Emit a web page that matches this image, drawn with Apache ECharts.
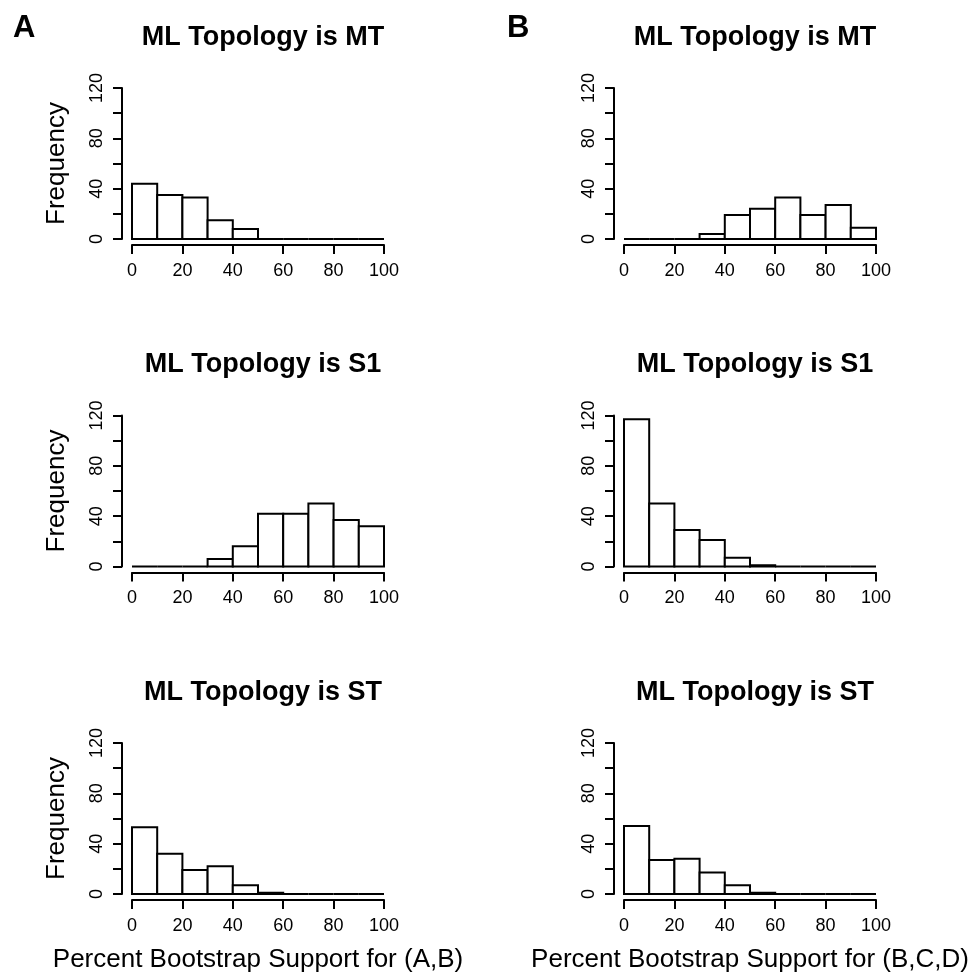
<!DOCTYPE html>
<html>
<head>
<meta charset="utf-8">
<script src="https://cdn.jsdelivr.net/npm/echarts@6/dist/echarts.min.js"></script>
<style>
  html, body { margin: 0; padding: 0; background: #fff; }
  #chart { width: 976px; height: 974px; }
</style>
</head>
<body>
<div id="chart"></div>
<script>
// histogram bin edges (percent bootstrap support)
const binEdges = [0, 10, 20, 30, 40, 50, 60, 70, 80, 90, 100];

// counts per bin, column A = support for (A,B), column B = support for (B,C,D)
const countsA_MT = [44, 35, 33, 15, 8, 0, 0, 0, 0, 0];
const countsA_S1 = [0, 0, 0, 6, 16, 42, 42, 50, 37, 32];
const countsA_ST = [53, 32, 19, 22, 7, 1, 0, 0, 0, 0];
const countsB_MT = [0, 0, 0, 4, 19, 24, 33, 19, 27, 9];
const countsB_S1 = [117, 50, 29, 21, 7, 1, 0, 0, 0, 0];
const countsB_ST = [54, 27, 28, 17, 7, 1, 0, 0, 0, 0];

const panelTitles = ['ML Topology is MT', 'ML Topology is S1', 'ML Topology is ST'];
const panelLetters = ['A', 'B'];
const xTitles = ['Percent Bootstrap Support for (A,B)', 'Percent Bootstrap Support for (B,C,D)'];
const yTitle = 'Frequency';

const font = 'Liberation Sans, Arial, Helvetica, sans-serif';

const columns = [
  { left: 132, letterLeft: 8, counts: [countsA_MT, countsA_S1, countsA_ST] },
  { left: 624, letterLeft: 502, counts: [countsB_MT, countsB_S1, countsB_ST] }
];
const plotW = 252, plotH = 151;
const rowTops = [88, 415.5, 743];

let grids = [], xAxes = [], yAxes = [], series = [], titles = [];

columns.forEach((col, c) => {
  titles.push({
    text: panelLetters[c],
    left: col.letterLeft,
    top: 8,
    textStyle: { fontFamily: font, fontWeight: 'bold', fontSize: 31, color: '#000' }
  });
  rowTops.forEach((top, r) => {
    const idx = grids.length;
    grids.push({ left: col.left, top: top, width: plotW, height: plotH });
    titles.push({
      text: panelTitles[r],
      left: col.left + plotW / 2,
      top: top - 69,
      textAlign: 'center',
      textStyle: { fontFamily: font, fontWeight: 'bold', fontSize: 27, color: '#000' }
    });
    // R style: axes detached from the plot area
    xAxes.push({
      type: 'value', gridIndex: idx, min: 0, max: 100, interval: 20,
      offset: 6,
      name: r === 2 ? xTitles[c] : '',
      nameLocation: 'middle', nameGap: 47,
      nameTextStyle: { fontFamily: font, fontSize: 26, color: '#000' },
      axisLine: { onZero: false, lineStyle: { color: '#000', width: 2 } },
      axisTick: { length: 9, lineStyle: { color: '#000', width: 2 } },
      axisLabel: { fontFamily: font, fontSize: 18, color: '#000', margin: 17 },
      splitLine: { show: false }
    });
    yAxes.push({
      type: 'value', gridIndex: idx, min: 0, max: 120, interval: 20,
      offset: 10,
      name: c === 0 ? yTitle : '',
      nameLocation: 'middle', nameGap: 52, nameRotate: 90,
      nameTextStyle: { fontFamily: font, fontSize: 26, color: '#000' },
      axisLine: { show: true, onZero: false, lineStyle: { color: '#000', width: 2 } },
      axisTick: { show: true, length: 9, lineStyle: { color: '#000', width: 2 } },
      axisLabel: {
        fontFamily: font, fontSize: 18, color: '#000', margin: 16, rotate: 90,
        formatter: v => (v % 40 === 0 ? String(v) : '')
      },
      splitLine: { show: false }
    });
    series.push({
      type: 'custom',
      xAxisIndex: idx, yAxisIndex: idx,
      encode: { x: [0, 1], y: 2 },
      data: col.counts[r].map((n, i) => [binEdges[i], binEdges[i + 1], n]),
      renderItem: function (params, api) {
        const p0 = api.coord([api.value(0), api.value(2)]);
        const p1 = api.coord([api.value(1), 0]);
        return {
          type: 'rect',
          shape: { x: p0[0], y: p0[1], width: p1[0] - p0[0], height: p1[1] - p0[1] },
          style: { fill: '#fff', stroke: '#000', lineWidth: 2 }
        };
      }
    });
  });
});

const chart = echarts.init(document.getElementById('chart'));
chart.setOption({
  animation: false,
  backgroundColor: '#fff',
  title: titles,
  grid: grids,
  xAxis: xAxes,
  yAxis: yAxes,
  series: series
});
</script>
</body>
</html>
